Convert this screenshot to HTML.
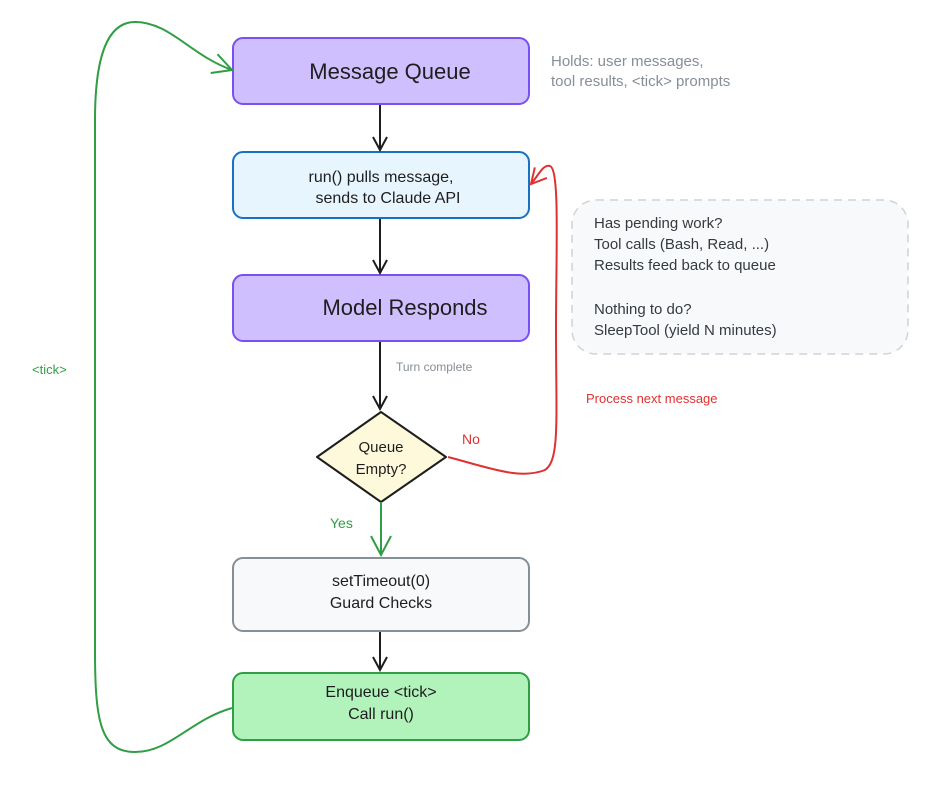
<!DOCTYPE html>
<html><head><meta charset="utf-8"><style>
html,body{margin:0;padding:0;background:#fff;}
svg{display:block;font-family:"Liberation Sans",sans-serif;}
</style></head><body>
<svg width="936" height="792" viewBox="0 0 936 792" xmlns="http://www.w3.org/2000/svg">
<defs>
<marker id="ak" markerWidth="16" markerHeight="16" refX="14" refY="8" orient="auto" markerUnits="userSpaceOnUse"><path d="M1,1 L14,8 L1,15" fill="none" stroke="#1e1e1e" stroke-width="2"/></marker>
<marker id="ag" markerWidth="22" markerHeight="22" refX="20" refY="11" orient="auto" markerUnits="userSpaceOnUse"><path d="M1,1 L20,11 L1,21" fill="none" stroke="#2f9e44" stroke-width="2"/></marker>
<marker id="ar" markerWidth="18" markerHeight="18" refX="16" refY="9" orient="auto" markerUnits="userSpaceOnUse"><path d="M1,1 L16,9 L1,17" fill="none" stroke="#e03131" stroke-width="2"/></marker>
</defs>
<rect x="233" y="38" width="296" height="66" rx="10" fill="#d0bfff" stroke="#7950f2" stroke-width="2"/>
<text x="390" y="79" font-size="22" text-anchor="middle" fill="#1e1e1e">Message Queue</text>
<text x="551" y="66" font-size="15" fill="#868e96">Holds: user messages,</text>
<text x="551" y="86" font-size="15" fill="#868e96">tool results, &lt;tick&gt; prompts</text>

<rect x="233" y="152" width="296" height="66" rx="10" fill="#e7f5ff" stroke="#1971c2" stroke-width="2"/>
<text x="381" y="182" font-size="16" text-anchor="middle" fill="#1e1e1e">run() pulls message,</text>
<text x="388" y="203" font-size="16" text-anchor="middle" fill="#1e1e1e">sends to Claude API</text>

<rect x="233" y="275" width="296" height="66" rx="10" fill="#d0bfff" stroke="#7950f2" stroke-width="2"/>
<text x="405" y="315" font-size="22" text-anchor="middle" fill="#1e1e1e">Model Responds</text>

<rect x="572" y="200" width="336" height="154" rx="24" fill="#f8f9fa" stroke="#ced4da" stroke-width="1.5" stroke-dasharray="8 6"/>
<g font-size="15" fill="#343a40">
<text x="594" y="228">Has pending work?</text>
<text x="594" y="249">Tool calls (Bash, Read, ...)</text>
<text x="594" y="270">Results feed back to queue</text>
<text x="594" y="314">Nothing to do?</text>
<text x="594" y="335">SleepTool (yield N minutes)</text>
</g>

<line x1="380" y1="105" x2="380" y2="150" stroke="#1e1e1e" stroke-width="2" marker-end="url(#ak)"/>
<line x1="380" y1="219" x2="380" y2="273" stroke="#1e1e1e" stroke-width="2" marker-end="url(#ak)"/>
<line x1="380" y1="342" x2="380" y2="409" stroke="#1e1e1e" stroke-width="2" marker-end="url(#ak)"/>
<text x="396" y="371" font-size="12" fill="#868e96">Turn complete</text>

<path d="M381,412 L446,457 L381,502 L317,457 Z" fill="#fff9db" stroke="#1e1e1e" stroke-width="2" stroke-linejoin="round"/>
<text x="381" y="452" font-size="15" text-anchor="middle" fill="#1e1e1e">Queue</text>
<text x="381" y="474" font-size="15" text-anchor="middle" fill="#1e1e1e">Empty?</text>

<text x="462" y="444" font-size="14" fill="#e03131">No</text>
<path d="M448,457 C490,468 520,480 545,470 C560,460 556,420 556,330 C556,250 560,170 550,166 C543,164 538,176 531,184" fill="none" stroke="#e03131" stroke-width="2" marker-end="url(#ar)"/>
<text x="586" y="403" font-size="13" fill="#e03131">Process next message</text>

<line x1="381" y1="502" x2="381" y2="555" stroke="#2f9e44" stroke-width="2" marker-end="url(#ag)"/>
<text x="330" y="528" font-size="14" fill="#2f9e44">Yes</text>

<rect x="233" y="558" width="296" height="73" rx="10" fill="#f8f9fa" stroke="#868e96" stroke-width="2"/>
<text x="381" y="586" font-size="16" text-anchor="middle" fill="#1e1e1e">setTimeout(0)</text>
<text x="381" y="608" font-size="16" text-anchor="middle" fill="#1e1e1e">Guard Checks</text>

<line x1="380" y1="632" x2="380" y2="670" stroke="#1e1e1e" stroke-width="2" marker-end="url(#ak)"/>

<rect x="233" y="673" width="296" height="67" rx="10" fill="#b2f2bb" stroke="#2f9e44" stroke-width="2"/>
<text x="381" y="697" font-size="16" text-anchor="middle" fill="#1e1e1e">Enqueue &lt;tick&gt;</text>
<text x="381" y="719" font-size="16" text-anchor="middle" fill="#1e1e1e">Call run()</text>

<path d="M232,708 C190,720 170,752 135,752 C100,752 95,720 95,650 L95,120 C95,50 110,22 135,22 C170,22 190,55 232,70" fill="none" stroke="#2f9e44" stroke-width="2" marker-end="url(#ag)"/>
<text x="32" y="374" font-size="13" fill="#2f9e44">&lt;tick&gt;</text>
</svg>
</body></html>
